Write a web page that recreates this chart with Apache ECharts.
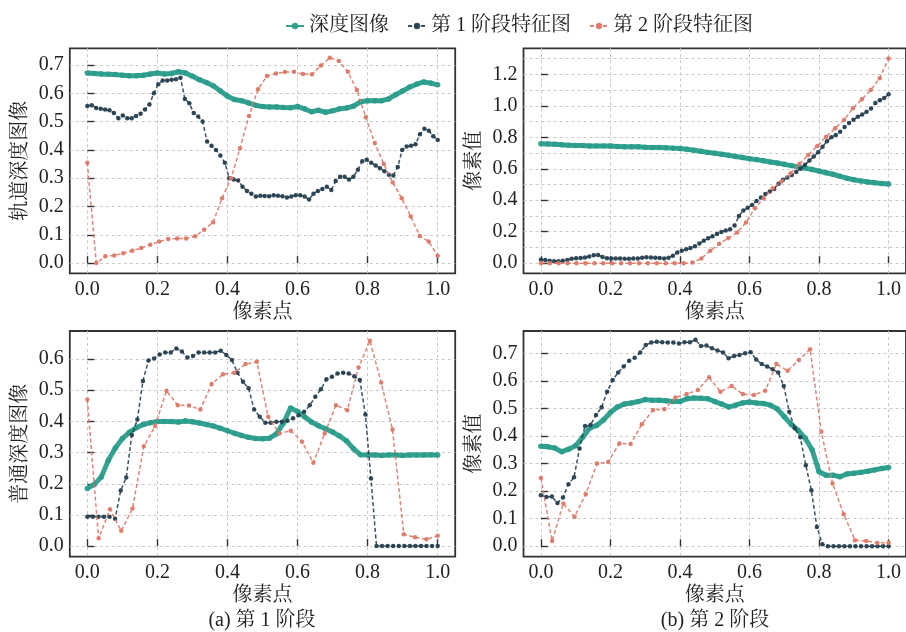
<!DOCTYPE html>
<html>
<head>
<meta charset="utf-8">
<script src="https://cdn.jsdelivr.net/npm/echarts@6/dist/echarts.min.js"></script>
<style>html,body{margin:0;padding:0;background:#fff}#c{width:906px;height:632px}</style>
</head>
<body>
<div id="c"></div>
<script>
// ---------- data ----------
const seriesNames = ['深度图像', '第 1 阶段特征图', '第 2 阶段特征图'];
const xAxisName = '像素点';
const yNames = ['轨道深度图像', '像素值', '普通深度图像', '像素值'];
const captions = ['(a) 第 1 阶段', '(b) 第 2 阶段'];

// top-left: 轨道深度图像
const tlDepth = [0.672,0.670,0.668,0.667,0.666,0.664,0.662,0.662,0.664,0.668,0.672,0.668,0.670,0.676,0.672,0.660,0.648,0.638,0.626,0.608,0.590,0.578,0.574,0.566,0.558,0.553,0.552,0.552,0.550,0.549,0.553,0.545,0.535,0.540,0.533,0.538,0.545,0.548,0.555,0.570,0.574,0.574,0.574,0.580,0.595,0.608,0.622,0.632,0.640,0.636,0.630];
const tlStage1 = [0.555,0.558,0.548,0.545,0.543,0.540,0.530,0.512,0.522,0.512,0.512,0.520,0.528,0.543,0.560,0.600,0.632,0.645,0.645,0.648,0.650,0.655,0.580,0.565,0.530,0.518,0.500,0.430,0.415,0.400,0.380,0.355,0.300,0.295,0.292,0.270,0.255,0.245,0.235,0.238,0.237,0.236,0.240,0.238,0.236,0.232,0.235,0.240,0.240,0.235,0.225,0.245,0.255,0.262,0.270,0.258,0.290,0.305,0.305,0.295,0.305,0.330,0.360,0.365,0.355,0.345,0.335,0.325,0.312,0.310,0.340,0.400,0.412,0.415,0.420,0.455,0.475,0.468,0.448,0.435];
const tlStage2 = [0.355,0.0,0.024,0.027,0.035,0.044,0.053,0.065,0.076,0.085,0.087,0.087,0.095,0.118,0.144,0.229,0.300,0.406,0.520,0.614,0.661,0.670,0.675,0.676,0.668,0.667,0.698,0.726,0.714,0.676,0.612,0.515,0.424,0.350,0.285,0.229,0.165,0.096,0.076,0.026];

// top-right
const trDepth = [0.758,0.757,0.755,0.752,0.750,0.748,0.747,0.745,0.744,0.745,0.744,0.742,0.740,0.740,0.739,0.736,0.735,0.735,0.733,0.731,0.728,0.724,0.718,0.711,0.704,0.698,0.692,0.686,0.678,0.671,0.664,0.658,0.651,0.643,0.636,0.628,0.620,0.612,0.604,0.595,0.585,0.575,0.565,0.552,0.540,0.530,0.523,0.516,0.511,0.507,0.503];
const trStage1 = [0.022,0.020,0.016,0.013,0.012,0.015,0.020,0.028,0.032,0.033,0.036,0.042,0.050,0.053,0.040,0.032,0.030,0.030,0.030,0.028,0.028,0.030,0.030,0.035,0.038,0.036,0.035,0.033,0.030,0.035,0.048,0.068,0.080,0.088,0.097,0.108,0.125,0.142,0.158,0.172,0.185,0.198,0.208,0.215,0.240,0.300,0.335,0.352,0.370,0.395,0.418,0.440,0.455,0.472,0.505,0.530,0.545,0.560,0.580,0.600,0.625,0.652,0.678,0.705,0.740,0.775,0.800,0.815,0.835,0.865,0.890,0.912,0.930,0.945,0.962,0.982,1.018,1.035,1.050,1.073];
const trStage2 = [0.002,0.0,0.0,0.0,0.0,0.0,0.0,0.0,0.0,0.0,0.0,0.0,0.0,0.0,0.0,0.0,0.0,0.004,0.030,0.080,0.123,0.159,0.195,0.258,0.349,0.413,0.476,0.519,0.571,0.631,0.688,0.745,0.804,0.857,0.910,0.984,1.041,1.100,1.175,1.300];

// bottom-left: 普通深度图像
const blDepth = [0.185,0.198,0.222,0.275,0.315,0.345,0.365,0.380,0.390,0.396,0.400,0.400,0.400,0.398,0.401,0.399,0.395,0.390,0.385,0.378,0.370,0.362,0.355,0.349,0.345,0.344,0.346,0.360,0.395,0.443,0.432,0.415,0.398,0.386,0.376,0.366,0.353,0.337,0.312,0.293,0.292,0.292,0.291,0.292,0.292,0.291,0.292,0.292,0.292,0.293,0.292];
const blStage1 = [0.094,0.094,0.094,0.094,0.094,0.088,0.178,0.220,0.356,0.406,0.530,0.595,0.602,0.615,0.621,0.621,0.634,0.624,0.605,0.610,0.621,0.621,0.621,0.621,0.627,0.613,0.597,0.556,0.527,0.506,0.438,0.415,0.396,0.396,0.399,0.399,0.402,0.410,0.420,0.431,0.452,0.479,0.503,0.535,0.543,0.554,0.556,0.554,0.545,0.533,0.422,0.217,0,0,0,0,0,0,0,0,0,0,0,0];
const blStage2 = [0.470,0.025,0.118,0.049,0.121,0.320,0.385,0.498,0.452,0.451,0.438,0.520,0.551,0.556,0.584,0.591,0.415,0.361,0.370,0.335,0.267,0.361,0.452,0.436,0.573,0.659,0.525,0.374,0.038,0.028,0.022,0.033];

// bottom-right
const brDepth = [0.363,0.361,0.356,0.343,0.352,0.365,0.395,0.428,0.438,0.458,0.485,0.505,0.516,0.520,0.525,0.532,0.530,0.530,0.528,0.525,0.525,0.535,0.538,0.537,0.535,0.525,0.516,0.505,0.512,0.520,0.523,0.520,0.518,0.512,0.498,0.470,0.442,0.420,0.392,0.350,0.270,0.258,0.258,0.252,0.262,0.265,0.268,0.272,0.277,0.282,0.286];
const brStage1 = [0.185,0.179,0.180,0.157,0.177,0.225,0.250,0.355,0.436,0.440,0.476,0.504,0.561,0.603,0.630,0.652,0.673,0.684,0.703,0.730,0.739,0.742,0.740,0.739,0.739,0.736,0.740,0.740,0.749,0.727,0.728,0.718,0.710,0.703,0.682,0.690,0.694,0.700,0.704,0.678,0.661,0.652,0.642,0.630,0.581,0.488,0.428,0.395,0.294,0.203,0.070,0.007,0,0,0,0,0,0,0,0,0,0,0,0];
const brStage2 = [0.248,0.019,0.155,0.107,0.189,0.300,0.306,0.373,0.371,0.443,0.494,0.497,0.540,0.552,0.567,0.613,0.561,0.581,0.552,0.549,0.564,0.661,0.637,0.676,0.715,0.415,0.228,0.116,0.022,0.019,0.012,0.013];

const panels = [
  [tlDepth, tlStage1, tlStage2],
  [trDepth, trStage1, trStage2],
  [blDepth, blStage1, blStage2],
  [brDepth, brStage1, brStage2]
];
const yRanges = [[-0.036, 0.759], [-0.064, 1.365], [-0.034, 0.690], [-0.038, 0.781]];

// ---------- styles ----------
const FONT = "'Liberation Serif','Times New Roman','Noto Serif CJK SC','Noto Sans CJK SC',serif";
const COLORS = ['#2b9d8b', '#263f4f', '#dc7868'];
const TXT = '#222';
const GRIDS = [
  {left: 69.8, top: 48.3, width: 385.4, height: 225},
  {left: 523.5, top: 48.3, width: 384.7, height: 225},
  {left: 69.8, top: 331, width: 385.4, height: 225.7},
  {left: 523.5, top: 331, width: 384.7, height: 225.7}
];

function toPairs(vals) {
  const n = vals.length;
  return vals.map((v, i) => [i / (n - 1), v]);
}

const grid = GRIDS.map(g => Object.assign({
  show: true, borderColor: '#333', borderWidth: 1.8, backgroundColor: '#fff', containLabel: false, z: 0
}, g));

const tickStyle = {show: true, inside: true, length: 7, lineStyle: {color: '#333', width: 1.4}};
const splitStyle = {show: true, showMinLine: false, showMaxLine: false, lineStyle: {color: '#c9c9c9', width: 1, type: [3, 3]}};

const xAxis = GRIDS.map((g, k) => ({
  type: 'value', gridIndex: k, min: -0.05, max: 1.05, splitNumber: 5,
  name: xAxisName, nameLocation: 'middle', nameGap: 29,
  nameTextStyle: {fontSize: 20, fontFamily: FONT, color: TXT},
  axisLine: {show: false},
  axisTick: tickStyle,
  splitLine: splitStyle,
  axisLabel: {
    show: true, margin: 6, fontSize: 20, fontFamily: FONT, color: TXT,
    showMinLabel: false, showMaxLabel: false,
    formatter: v => v.toFixed(1)
  }
}));

const yAxis = GRIDS.map((g, k) => ({
  type: 'value', gridIndex: k, min: yRanges[k][0], max: yRanges[k][1], splitNumber: 7,
  name: yNames[k], nameLocation: 'middle', nameGap: 39, nameRotate: 90,
  nameTextStyle: {fontSize: 20, fontFamily: FONT, color: TXT},
  axisLine: {show: false},
  axisTick: tickStyle,
  splitLine: splitStyle,
  minorTick: {show: false, splitNumber: 2},
  minorSplitLine: {show: k === 1, lineStyle: {color: '#c9c9c9', width: 1, type: [3, 3]}},
  axisLabel: {
    show: true, margin: 6, fontSize: 20, fontFamily: FONT, color: TXT,
    showMinLabel: false, showMaxLabel: false,
    formatter: v => v.toFixed(1)
  }
}));

const series = [];
panels.forEach((p, k) => {
  p.forEach((vals, s) => {
    const isDepth = s === 0;
    series.push({
      type: 'line', name: seriesNames[s], xAxisIndex: k, yAxisIndex: k,
      data: toPairs(vals), animation: false,
      symbol: 'circle', symbolSize: isDepth ? 5.5 : 4.5, showSymbol: true,
      lineStyle: {color: COLORS[s], width: isDepth ? 5 : 1.5, type: isDepth ? 'solid' : [4, 2.5], opacity: isDepth ? 0.95 : 0.9},
      itemStyle: {color: COLORS[s], opacity: 0.95},
      z: 2 + s
    });
  });
});

const option = {
  backgroundColor: '#fff',
  animation: false,
  grid, xAxis, yAxis, series,
  legend: {
    top: 11, left: 280, itemWidth: 18, itemHeight: 8, itemGap: 18,
    textStyle: {fontSize: 20, fontFamily: FONT, color: TXT},
    data: seriesNames.map((n, i) => ({name: n, lineStyle: {width: 2}}))
  },
  graphic: captions.map((t, i) => ({
    type: 'text',
    x: i === 0 ? 262 : 715, y: 621,
    style: {text: t, fontSize: 20, fontFamily: FONT, fill: TXT, align: 'center', verticalAlign: 'middle'}
  }))
};

const chart = echarts.init(document.getElementById('c'), null, {renderer: 'canvas'});
chart.setOption(option);
</script>
</body>
</html>
